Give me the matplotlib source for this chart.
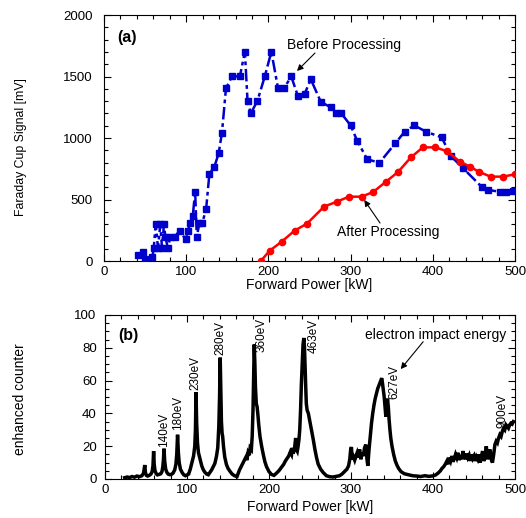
import matplotlib

matplotlib.use("Agg")
import matplotlib.pyplot as plt
from matplotlib.ticker import MultipleLocator

plt.rcParams["font.family"] = ["Liberation Sans", "DejaVu Sans"]

# (a) Faraday cup signal vs forward power
before_kw = [41.5, 47.6, 49.6, 58.9, 60.5, 62.9, 65.7, 68.5, 70.6, 73.0,
             74.6, 77.8, 80.6, 85.9, 91.9, 99.2, 102.0, 104.8, 108.0, 110.9,
             112.9, 116.0, 119.4, 124.2, 128.2, 134.3, 139.5, 143.5, 148.4, 155.6,
             165.3, 171.4, 174.6, 178.6, 186.7, 195.6, 203.6, 211.7, 219.0, 227.8,
             235.9, 244.0, 251.6, 263.7, 275.8, 281.9, 288.7, 300.0, 308.0, 320.2,
             335.1, 354.4, 365.7, 377.4, 391.9, 410.9, 421.8, 437.1, 459.3, 467.3,
             481.5, 489.5, 497.5]
before_mv = [49, 70, 14, 30, 103, 301, 103, 301, 103, 301,
             198, 103, 198, 198, 244, 179, 244, 306, 366, 564,
             198, 306, 306, 420, 707, 767, 875, 1043, 1404, 1501,
             1501, 1702, 1303, 1200, 1303, 1501, 1702, 1404, 1404, 1501,
             1341, 1358, 1477, 1295, 1249, 1200, 1200, 1103, 978, 827,
             799, 957, 1051, 1103, 1051, 1005, 854, 753, 604, 577,
             564, 564, 569]

after_kw = [190.7, 201.6, 216.1, 231.9, 247.0, 267.7, 283.0, 298.0, 313.3, 327.4, 343.1,
            357.7, 373.4, 387.9, 402.8, 416.9, 433.0, 445.2, 456.0, 470.2, 485.5, 499.6]
after_mv = [0, 84, 157, 247, 304, 442, 482, 523, 523, 561, 645,
            724, 843, 924, 924, 894, 808, 767, 726, 686, 686, 705]

# (b) enhanced counter spectrum
spec_kw = [24, 27, 30, 33, 36, 39, 42, 45, 47, 48.5, 49.3, 50.5, 52,
           54, 56, 57.5, 58.5, 59.3, 60, 61, 62.5, 64, 66,
           68, 69.5, 70.5, 71.3, 72, 72.8, 74, 75.5, 77, 79,
           81, 83, 85, 86.5, 87.5, 88.5, 89.5, 90.5, 92, 94, 96, 98, 100,
           102, 104, 106, 108, 109.5, 110.3, 111, 111.8, 112.8, 114, 116, 118, 120, 122, 124, 126,
           128, 130, 132, 134, 136, 137.5, 138.8, 139.7, 140.5, 141.3, 142, 142.8, 143.5, 144.5,
           146, 148, 150, 152, 155, 158, 161,
           164, 166, 168, 170, 172, 173, 174.5, 176, 177, 178.5, 179.5, 180.5, 181.3, 182, 182.8,
           183.5, 184.5, 185.5, 186.5, 187.5, 189, 191, 193, 195, 197, 200, 203, 206, 209,
           212, 215, 218, 220, 222, 224, 226, 227.5, 228.5, 229.5, 231, 232.5, 233.5, 234.5, 235.5,
           236.5, 237.5, 238.5, 239.5, 240.5, 241.5, 242.5, 243.3, 244, 244.8, 245.5, 246.5, 248,
           249.5, 251, 252.5, 254, 256, 258, 260, 263, 266, 270, 274, 278, 282,
           286, 289, 292, 295, 297, 298.5, 299.5, 300.5, 301.5, 303, 304.5, 306, 307.5, 309, 310.5,
           312, 313.5, 315, 316.5, 318, 319.5, 320.5, 322, 323.5, 325, 326.5, 328, 329.5, 331,
           332.5, 334, 335.5, 336.5, 337.5, 338.5, 339.5, 340.5, 341.5, 342.5, 343.5, 344.5, 345.5,
           346.5, 347.5, 348.5, 350, 352, 354, 356, 358, 361,
           365, 370, 375, 380, 385, 390, 395, 400, 403, 406, 409, 411, 413, 415, 417,
           418.5, 420, 421.5, 423, 424.5, 426, 427.5, 429, 430.5, 432, 433.5, 435, 436.5, 438,
           439.5, 441, 442.5, 444, 445.5, 447, 448.5, 450, 451.5, 453, 454.5, 456, 457.5, 459,
           460.5, 462, 463.5, 465, 466.5, 468, 469.5, 471, 472.5, 474, 475.5, 477, 478.5, 480,
           481.5, 483, 484.5, 486, 487.5, 489, 490.5, 492, 493.5, 495, 496.5, 498]
spec_counts = [0.8, 1.2, 0.9, 1.5, 1.1, 1.8, 1.4, 2.0, 3.5, 8.5, 4.0, 2.2, 1.8,
               2.2, 3.0, 4.5, 8.0, 17.0, 9.0, 5.0, 3.2, 2.5, 2.8,
               3.2, 4.5, 7.5, 12.0, 18.5, 11.0, 6.0, 4.0, 3.0, 2.6,
               2.8, 3.6, 5.5, 9.0, 15.0, 27.0, 16.0, 10.0, 6.0, 4.0, 2.6, 2.0, 2.4,
               3.0, 6.0, 10.0, 14.0, 20.0, 30.0, 53.0, 34.0, 22.0, 16.0, 12.0, 8.0, 5.5, 4.0, 3.0, 2.6,
               4.0, 5.5, 7.5, 9.5, 14.0, 19.0, 32.0, 50.0, 74.0, 52.0, 35.0, 28.0, 26.0, 20.0,
               13.5, 9.0, 6.5, 5.0, 3.0, 2.0, 1.5,
               5.5, 7.5, 9.5, 11.5, 13.5, 11.5, 16.0, 14.5, 19.0, 18.0, 26.0, 42.0, 62.0, 82.0, 70.0,
               56.0, 46.0, 44.0, 39.0, 33.0, 26.0, 20.0, 15.0, 10.5, 7.5, 4.5, 2.8, 2.2, 3.5,
               5.0, 7.0, 9.0, 11.0, 12.5, 14.0, 16.5, 15.0, 19.0, 15.5, 18.0, 25.0, 18.0, 17.0, 20.0,
               24.0, 30.0, 42.0, 58.0, 70.0, 82.0, 86.0, 80.0, 68.0, 56.0, 46.0, 42.0, 40.0,
               36.0, 32.0, 28.0, 24.0, 18.0, 13.0, 9.0, 6.0, 4.0, 2.0, 1.4, 1.2, 1.6,
               2.0, 3.0, 4.5, 6.0, 8.0, 12.0, 17.5, 19.5, 12.0, 13.5, 11.5, 14.0, 16.0, 13.0, 18.0,
               12.0, 16.0, 14.0, 19.0, 21.0, 12.0, 8.0, 18.0, 26.0, 34.0, 40.0, 45.0, 49.0, 52.0,
               55.0, 57.0, 59.0, 60.5, 61.5, 58.0, 54.0, 50.0, 44.0, 38.0, 42.0, 49.0, 44.0,
               36.0, 30.0, 25.0, 20.0, 15.0, 11.0, 8.5, 6.5, 4.5,
               3.2, 2.6, 2.0, 1.8, 1.5, 2.0, 1.6, 1.9, 2.4, 3.5, 5.0, 6.5, 7.5, 9.0, 11.0,
               9.0, 13.0, 11.0, 14.0, 10.5, 12.5, 15.0, 13.0, 16.0, 11.5, 14.5, 12.0, 17.0, 14.0,
               12.0, 15.5, 13.0, 14.5, 11.0, 15.0, 12.5, 14.0, 11.0, 13.5, 12.0, 15.0, 10.0, 14.0,
               17.0, 11.0, 13.0, 20.0, 12.0, 15.5, 18.0, 12.0, 10.0, 15.0, 21.0, 23.0, 22.0, 25.0,
               27.0, 26.0, 29.0, 31.0, 30.0, 33.0, 32.0, 31.0, 33.0, 34.0, 33.5, 35.0]

peak_labels = ["140eV", "180eV", "230eV", "280eV", "360eV", "463eV", "627eV", "900eV"]
peak_label_kw = [72.5, 89.0, 110.5, 141.0, 191.5, 254.5, 353.0, 484.5]
peak_label_y = [19.7, 29.9, 54.0, 75.5, 77.5, 76.8, 49.0, 31.0]


def style_axis(ax, ymax, ymajor, yminor, ypad):
    ax.set_xlim(0, 500)
    ax.set_ylim(0, ymax)
    ax.xaxis.set_major_locator(MultipleLocator(100))
    ax.xaxis.set_minor_locator(MultipleLocator(20))
    ax.yaxis.set_major_locator(MultipleLocator(ymajor))
    ax.yaxis.set_minor_locator(MultipleLocator(yminor))
    ax.tick_params(which="both", direction="in", top=True, right=True, width=0.8, labelsize=9.5)
    ax.tick_params(which="major", length=5)
    ax.tick_params(which="minor", length=3)
    ax.tick_params(axis="x", pad=3.5)
    ax.tick_params(axis="y", pad=ypad)
    for spine in ax.spines.values():
        spine.set_linewidth(0.8)


def arrow(ax, head, tail):
    ax.annotate("", xy=head, xytext=tail,
                arrowprops=dict(arrowstyle="-|>", color="black", lw=0.8,
                                mutation_scale=9, shrinkA=0, shrinkB=0))


def main():
    fig = plt.figure(figsize=(5.26, 5.18), dpi=100)
    ax1 = fig.add_axes([0.1977, 0.4961, 0.7814, 0.4749])
    ax2 = fig.add_axes([0.1996, 0.0753, 0.7795, 0.3166])

    # panel (a)
    ax1.plot(before_kw, before_mv, color="#0000cc", linestyle=(0, (5, 1.5, 1.5, 1.5)), linewidth=1.8,
             marker="s", markersize=5, zorder=3)
    ax1.plot(after_kw, after_mv, color="#ff0000", linestyle="-", linewidth=1.8,
             marker="o", markersize=4.5, zorder=3)
    style_axis(ax1, 2000, 500, 100, 8)
    ax1.set_xlabel("Forward Power [kW]", fontsize=10)
    ax1.set_ylabel("Faraday Cup Signal [mV]", fontsize=8.8)
    ax1.xaxis.set_label_coords(0.5, -0.07)
    ax1.yaxis.set_label_coords(-0.187, 0.463)
    ax1.text(15.8, 1821, "(a)", fontsize=11.5, fontweight="bold", va="center")
    ax1.text(222.6, 1756, "Before Processing", fontsize=10, va="center")
    arrow(ax1, (234.8, 1545), (256.7, 1691))
    ax1.text(283.5, 236, "After Processing", fontsize=10, va="center")
    arrow(ax1, (316.6, 496), (335.8, 309))

    # panel (b)
    ax2.plot(spec_kw, spec_counts, color="black", linewidth=2.5, solid_joinstyle="miter")
    style_axis(ax2, 100, 20, 5, 6)
    ax2.set_xlabel("Forward Power [kW]", fontsize=10)
    ax2.set_ylabel("enhanced counter", fontsize=10)
    ax2.xaxis.set_label_coords(0.5, -0.13)
    ax2.yaxis.set_label_coords(-0.19, 0.49)
    ax2.text(15.9, 87.8, "(b)", fontsize=11.5, fontweight="bold", va="center")
    for label, x, y in zip(peak_labels, peak_label_kw, peak_label_y):
        ax2.text(x, y, label, rotation=90, fontsize=8.5, ha="center", va="bottom")
    ax2.text(317, 87.8, "electron impact energy", fontsize=10, va="center")
    arrow(ax2, (360.6, 67), (388, 83.7))

    fig.savefig("out.png", dpi=100)
    plt.close(fig)


if __name__ == "__main__":
    main()
